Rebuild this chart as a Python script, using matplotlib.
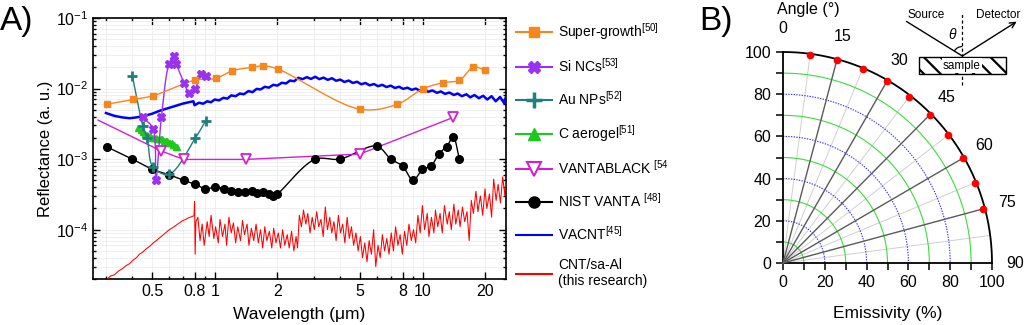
import numpy as np
import matplotlib
matplotlib.use('Agg')
import matplotlib.pyplot as plt
from matplotlib.lines import Line2D
from matplotlib.patches import Rectangle, Arc
from matplotlib.ticker import FixedLocator, FixedFormatter, LogLocator, NullFormatter, MultipleLocator

plt.rcParams['font.family'] = ['Liberation Sans', 'DejaVu Sans']
plt.rcParams['mathtext.fontset'] = 'custom'
plt.rcParams['mathtext.rm'] = 'Liberation Sans'
plt.rcParams['mathtext.it'] = 'Liberation Sans:italic'
plt.rcParams['mathtext.bf'] = 'Liberation Sans:bold'
plt.rcParams['hatch.linewidth'] = 1.6

# ---------------- data (panel A) ----------------
sg_x = [0.303, 0.405, 0.505, 0.804, 1.01, 1.216, 1.51, 1.71, 2.01, 4.98, 7.55, 10.0, 12.5, 15.0, 17.5, 20.0]
sg_y = [0.0060, 0.0070, 0.0079, 0.0132, 0.0139, 0.0179, 0.0200, 0.0210, 0.0189, 0.0051, 0.0060, 0.0099, 0.0121, 0.0131, 0.0202, 0.0181]

si_x = [0.452, 0.505, 0.521, 0.554, 0.603, 0.637, 0.654, 0.712, 0.752, 0.804, 0.857, 0.912]
si_y = [0.0039, 0.0027, 0.00050, 0.0039, 0.0223, 0.0292, 0.0223, 0.0121, 0.0087, 0.00975, 0.0161, 0.0150]

au_x = [0.402, 0.452, 0.473, 0.505, 0.603, 0.808, 0.905]
au_y = [0.0150, 0.0029, 0.0020, 0.00077, 0.00061, 0.0020, 0.0035]

ca_x = [0.43, 0.44, 0.45, 0.46, 0.47, 0.48, 0.49, 0.50, 0.51, 0.52, 0.53, 0.54,
        0.55, 0.56, 0.57, 0.58, 0.59, 0.60, 0.61, 0.62, 0.63, 0.64, 0.65, 0.66]
ca_y = [0.0028, 0.0026, 0.0024, 0.0023, 0.0022, 0.0021, 0.0021, 0.0020, 0.0020, 0.0020, 0.0019, 0.0019,
        0.0019, 0.0019, 0.0018, 0.0018, 0.0018, 0.0017, 0.0017, 0.0017, 0.0016, 0.0016, 0.0015, 0.0015]

vb_x = [0.275, 0.554, 0.71, 1.41, 4.98, 14.0]
vb_y = [0.00357, 0.0013, 0.00099, 0.00099, 0.00118, 0.0039]

nist_x = [0.302, 0.402, 0.502, 0.603, 0.71, 0.808, 0.902, 1.0, 1.105, 1.20, 1.30, 1.405, 1.51, 1.60,
          1.71, 1.82, 1.91, 2.0, 3.02, 3.99, 5.99, 7.02, 7.99, 8.98, 9.96, 10.96, 11.97, 13.0, 14.0, 15.0]
nist_y = [0.0015, 0.0010, 0.000714, 0.00060, 0.00050, 0.000438, 0.00038, 0.000401, 0.000383, 0.000355,
          0.00034, 0.000343, 0.00035, 0.00033, 0.00034, 0.000316, 0.000299, 0.00032, 0.00099, 0.0010,
          0.00153, 0.0010, 0.00080, 0.00050, 0.000714, 0.00080, 0.0012, 0.0015, 0.00203, 0.00099]

vacnt_x = [0.30, 0.33, 0.36, 0.39, 0.42, 0.46, 0.50, 0.55, 0.60, 0.65, 0.70, 0.75, 0.79,
           0.80, 0.84, 0.88, 0.92, 0.96, 1.00, 1.05, 1.10, 1.15, 1.20, 1.26, 1.32, 1.38, 1.45, 1.52,
           1.59, 1.66, 1.74, 1.82, 1.91, 2.00, 2.10, 2.20, 2.30, 2.41, 2.52, 2.64, 2.77, 2.90, 3.04,
           3.18, 3.33, 3.49, 3.66, 3.83, 4.01, 4.20, 4.40, 4.61, 4.83, 5.06, 5.30, 5.55, 5.82, 6.09,
           6.38, 6.69, 7.00, 7.34, 7.69, 8.05, 8.43, 8.84, 9.26, 9.70, 10.2, 10.6, 11.1, 11.7, 12.2,
           12.8, 13.4, 14.1, 14.7, 15.4, 16.2, 16.9, 17.7, 18.6, 19.5, 20.4, 21.4, 22.4, 23.5, 24.6, 25.0]
vacnt_y = [0.0045, 0.0041, 0.0039, 0.0038, 0.0039, 0.0041, 0.0044, 0.0049, 0.0053, 0.0057, 0.0061, 0.0064, 0.0066,
           0.0058, 0.0063, 0.0061, 0.0066, 0.0064, 0.0070, 0.0068, 0.0074, 0.0072, 0.0080, 0.0078, 0.0085, 0.0083, 0.0092, 0.0089,
           0.0099, 0.0097, 0.0106, 0.0103, 0.0113, 0.0110, 0.0121, 0.0118, 0.0130, 0.0127, 0.0142, 0.0136, 0.0145, 0.0137, 0.0147,
           0.0136, 0.0143, 0.0133, 0.0140, 0.0129, 0.0134, 0.0124, 0.0130, 0.0120, 0.0125, 0.0115, 0.0120, 0.0111, 0.0116, 0.0108,
           0.0113, 0.0105, 0.0110, 0.0102, 0.0106, 0.0099, 0.0103, 0.0096, 0.0100, 0.0093, 0.0097, 0.0090, 0.0094, 0.0087, 0.0091,
           0.0084, 0.0088, 0.0081, 0.0085, 0.0078, 0.0083, 0.0075, 0.0081, 0.0073, 0.0079, 0.0070, 0.0078, 0.0066, 0.0076, 0.0062, 0.0074]

cnt_x = [0.300, 0.315, 0.330, 0.345, 0.360, 0.375, 0.390, 0.405, 0.420, 0.435, 0.450, 0.470, 0.490,
         0.510, 0.530, 0.550, 0.575, 0.600, 0.625, 0.650, 0.675, 0.700, 0.725, 0.750, 0.775, 0.795,
         0.800, 0.805, 0.812,
         0.83, 0.85, 0.87, 0.89, 0.92, 0.94, 0.96, 0.99, 1.01, 1.04, 1.06, 1.09, 1.12, 1.14, 1.17,
         1.20, 1.23, 1.26, 1.29, 1.33, 1.36, 1.39, 1.43, 1.46, 1.50, 1.54, 1.58, 1.62, 1.66, 1.70,
         1.74, 1.78, 1.83, 1.88, 1.92, 1.97, 2.02, 2.07, 2.12, 2.17, 2.23, 2.28, 2.34, 2.40, 2.46, 2.50,
         2.55, 2.61, 2.67, 2.74, 2.80, 2.87, 2.94, 3.01, 3.09, 3.16, 3.24, 3.32, 3.40, 3.48, 3.57,
         3.65, 3.74, 3.83, 3.93, 4.02, 4.12, 4.22, 4.33, 4.43, 4.54, 4.65, 4.77,
         4.89, 5.01, 5.13, 5.26, 5.39, 5.52, 5.66, 5.80, 5.94, 6.09, 6.24, 6.39, 6.55, 6.71, 6.88,
         7.05, 7.22, 7.40, 7.59, 7.78, 7.97, 8.17, 8.37, 8.58, 8.80, 9.02, 9.24, 9.47, 9.71, 9.95,
         10.2, 10.5, 10.7, 11.0, 11.3, 11.5, 11.8, 12.1, 12.4, 12.7, 13.1, 13.4, 13.7, 14.1, 14.4,
         14.8, 15.1, 15.5, 15.9, 16.3, 16.7, 17.1, 17.5, 18.0, 18.4, 18.9, 19.4, 19.9, 20.3, 20.9,
         21.4, 21.9, 22.5, 23.0, 23.6, 24.2, 24.8, 25.0]
cnt_y = [1.9e-5, 2.2e-5, 2.3e-5, 2.6e-5, 2.8e-5, 3.1e-5, 3.3e-5, 3.7e-5, 4.0e-5, 4.5e-5, 4.8e-5, 5.4e-5, 5.9e-5,
         6.6e-5, 7.2e-5, 7.9e-5, 8.8e-5, 9.8e-5, 1.06e-4, 1.15e-4, 1.24e-4, 1.34e-4, 1.40e-4, 1.48e-4, 1.53e-4, 1.58e-4,
         2.5e-4, 4.5e-5, 1.3e-4,
         1.5e-4, 7e-5, 1.2e-4, 6e-5, 1.3e-4, 8e-5, 1.6e-4, 7.5e-5, 1.1e-4, 6.5e-5, 1.4e-4, 8e-5, 1.2e-4, 6e-5, 1.5e-4,
         9e-5, 1.25e-4, 6.5e-5, 1.1e-4, 7e-5, 1.35e-4, 8.5e-5, 1.2e-4, 6e-5, 1.05e-4, 7e-5, 1.2e-4, 6.5e-5, 1.0e-4, 5.5e-5,
         1.1e-4, 7e-5, 9.5e-5, 5.5e-5, 1.05e-4, 6.5e-5, 9e-5, 5.5e-5, 1.0e-4, 6e-5, 8.5e-5, 5.5e-5, 9.5e-5, 5e-5, 8e-5, 5.5e-5,
         1.6e-4, 1.1e-4, 1.9e-4, 1.2e-4, 1.7e-4, 9e-5, 1.5e-4, 1.0e-4, 1.8e-4, 1.1e-4, 1.4e-4, 8e-5, 2.1e-4, 1.0e-4, 1.5e-4,
         9e-5, 1.3e-4, 7e-5, 1.6e-4, 9e-5, 1.2e-4, 6.5e-5, 1.5e-4, 7.5e-5, 1.1e-4, 6e-5, 9e-5,
         5e-5, 8e-5, 4e-5, 6.5e-5, 3.5e-5, 7e-5, 4.5e-5, 1.0e-4, 3e-5, 6e-5, 4e-5, 8.5e-5, 5e-5, 7.5e-5, 4.5e-5,
         9e-5, 5e-5, 1.1e-4, 6e-5, 8.5e-5, 4.5e-5, 9.5e-5, 6e-5, 1.2e-4, 7e-5, 1.0e-4, 6.5e-5, 1.6e-4, 9e-5, 2.2e-4,
         1.0e-4, 1.7e-4, 8e-5, 1.5e-4, 9e-5, 1.9e-4, 1.1e-4, 1.7e-4, 9e-5, 2.2e-4, 1.2e-4, 1.8e-4, 1.0e-4, 2.3e-4, 1.2e-4,
         1.9e-4, 1.1e-4, 2.1e-4, 1.3e-4, 1.8e-4, 7e-5, 2.6e-4, 1.7e-4, 3.5e-4, 1.8e-4, 3.0e-4, 1.6e-4, 3.8e-4, 2.0e-4, 3.2e-4,
         1.5e-4, 5.2e-4, 2.6e-4, 4.4e-4, 2.4e-4, 5.6e-4, 3.0e-4, 4.8e-4]

x_ticks = [0.5, 0.8, 1, 2, 5, 8, 10, 20]
x_ticklabels = ['0.5', '0.8', '1', '2', '5', '8', '10', '20']

labels = [r'Super-growth$^{\mathregular{[50]}}$', r'Si NCs$^{\mathregular{[53]}}$',
          r'Au NPs$^{\mathregular{[52]}}$', r'C aerogel$^{\mathregular{[51]}}$',
          r'VANTABLACK $^{\mathregular{[54}}$', r'NIST VANTA $^{\mathregular{[48]}}$',
          r'VACNT$^{\mathregular{[45]}}$', 'CNT/sa-Al\n(this research)']

# ---------------- data (panel B) ----------------
emis_angle = [7.5, 15, 22.5, 30, 37.5, 45, 52.5, 60, 67.5, 75]
emis_value = [99.6, 99.5, 99.4, 99.5, 99.4, 99.3, 99.4, 99.2, 99.3, 99.2]
angle_labels = [0, 15, 30, 45, 60, 75, 90]

C_OR = '#f7861c'
C_PU = '#9b30f0'
C_TE = '#1f7f7f'
C_GR = '#1ec81e'
C_MA = '#d21fd2'
C_BL = '#0000ff'
C_RE = '#ff0000'

SX, SY = 208.0, 70.5


def smooth(xs, ys, n=24):
    P = np.column_stack([np.log10(xs) * SX, np.log10(ys) * SY])
    P = np.vstack([2 * P[0] - P[1], P, 2 * P[-1] - P[-2]])
    out = []
    for i in range(1, len(P) - 2):
        p0, p1, p2, p3 = P[i - 1], P[i], P[i + 1], P[i + 2]
        t0 = 0.0
        t1 = t0 + np.linalg.norm(p1 - p0) ** 0.5
        t2 = t1 + np.linalg.norm(p2 - p1) ** 0.5
        t3 = t2 + np.linalg.norm(p3 - p2) ** 0.5
        t = np.linspace(t1, t2, n)[:, None]
        A1 = (t1 - t) / (t1 - t0) * p0 + (t - t0) / (t1 - t0) * p1
        A2 = (t2 - t) / (t2 - t1) * p1 + (t - t1) / (t2 - t1) * p2
        A3 = (t3 - t) / (t3 - t2) * p2 + (t - t2) / (t3 - t2) * p3
        B1 = (t2 - t) / (t2 - t0) * A1 + (t - t0) / (t2 - t0) * A2
        B2 = (t3 - t) / (t3 - t1) * A2 + (t - t1) / (t3 - t1) * A3
        Cc = (t2 - t) / (t2 - t1) * B1 + (t - t1) / (t2 - t1) * B2
        out.append(Cc)
    out = np.vstack(out)
    return 10 ** (out[:, 0] / SX), 10 ** (out[:, 1] / SY)


fig = plt.figure(figsize=(10.24, 3.25), dpi=100)

# ================= Panel A =================
axA = fig.add_axes([93 / 1024, 1 - 279 / 325, (506 - 93) / 1024, (279 - 18) / 325])
axA.set_xscale('log')
axA.set_yscale('log')

axA.plot(cnt_x, cnt_y, color=C_RE, lw=0.75, zorder=3)
axA.plot(vacnt_x, vacnt_y, color=C_BL, lw=1.8, zorder=3)

xs, ys = smooth(nist_x, nist_y)
axA.plot(xs, ys, color='black', lw=1.0, zorder=4)
axA.plot(nist_x, nist_y, ls='none', marker='o', ms=5.5, color='black', zorder=5)

axA.plot(vb_x, vb_y, color=C_MA, lw=1.0, zorder=4)
axA.plot(vb_x[1:], vb_y[1:], ls='none', marker='v', ms=6.5, mfc='white', mec=C_MA, mew=1.3, zorder=5)

axA.plot(ca_x, ca_y, color=C_GR, lw=1.0, marker='^', ms=5, zorder=4)

xs, ys = smooth(au_x, au_y)
axA.plot(xs, ys, color=C_TE, lw=1.0, zorder=4)
axA.plot(au_x, au_y, ls='none', marker='+', ms=7, mew=2.0, color=C_TE, zorder=5)

xs, ys = smooth(si_x, si_y)
axA.plot(xs, ys, color=C_PU, lw=1.0, zorder=4)
axA.plot(si_x, si_y, ls='none', marker='X', ms=6, color=C_PU, zorder=5)

xs, ys = smooth(sg_x, sg_y)
axA.plot(xs, ys, color=C_OR, lw=1.0, zorder=4)
axA.plot(sg_x, sg_y, ls='none', marker='s', ms=4.5, color=C_OR, zorder=5)

axA.set_xlim(0.26, 25.1)
axA.set_ylim(2e-5, 1e-1)
axA.xaxis.set_major_locator(FixedLocator(x_ticks))
axA.xaxis.set_major_formatter(FixedFormatter(x_ticklabels))
axA.xaxis.set_minor_locator(LogLocator(base=10, subs=np.arange(1, 10), numticks=30))
axA.xaxis.set_minor_formatter(NullFormatter())
axA.yaxis.set_major_locator(LogLocator(base=10, numticks=10))
axA.yaxis.set_minor_locator(LogLocator(base=10, subs=np.arange(2, 10), numticks=30))
axA.yaxis.set_minor_formatter(NullFormatter())
axA.tick_params(which='both', direction='in', top=True, right=True, labelsize=11.5, width=1.0)
axA.tick_params(which='major', length=5)
axA.tick_params(which='minor', length=2.5)
axA.grid(True, which='both', color='#ececec', lw=0.6)
axA.set_axisbelow(True)
for s in axA.spines.values():
    s.set_linewidth(1.2)
axA.set_xlabel('Wavelength (μm)', fontsize=12.5, labelpad=6)
axA.set_ylabel('Reflectance (a. u.)', fontsize=12, labelpad=2)

handles = [
    Line2D([], [], color=C_OR, lw=1.5, marker='s', ms=7),
    Line2D([], [], color=C_PU, lw=1.5, marker='X', ms=9),
    Line2D([], [], color=C_TE, lw=1.5, marker='+', ms=11, mew=2.5),
    Line2D([], [], color=C_GR, lw=1.5, marker='^', ms=8),
    Line2D([], [], color=C_MA, lw=1.5, marker='v', ms=10, mfc='white', mew=1.5),
    Line2D([], [], color='black', lw=1.5, marker='o', ms=8),
    Line2D([], [], color=C_BL, lw=1.5),
    Line2D([], [], color=C_RE, lw=1.5),
]
fig.legend(handles, labels, loc='upper left', bbox_to_anchor=(0.498, 0.953), frameon=False,
           fontsize=10, handlelength=2.6, labelspacing=1.09, handletextpad=0.45,
           borderaxespad=0, borderpad=0.4)

fig.text(0.0, 0.935, 'A)', fontsize=24, va='center', ha='left')
fig.text(0.683, 0.935, 'B)', fontsize=24, va='center', ha='left')

# ================= Panel B =================
axB = fig.add_axes([783 / 1024, 1 - 263 / 325, 209 / 1024, 211 / 325])
axB.set_xlim(0, 100)
axB.set_ylim(0, 100)
th = np.linspace(0, np.pi / 2, 300)
for r in [10, 30, 50, 70, 90]:
    axB.plot(r * np.sin(th), r * np.cos(th), color='#3ddc3d', lw=0.8, clip_on=False, zorder=2)
for r in [20, 40, 60, 80]:
    axB.plot(r * np.sin(th), r * np.cos(th), color='#2a2aff', lw=0.8, ls=(0, (1.2, 1.2)), clip_on=False, zorder=2)
for a in [7.5, 22.5, 37.5, 52.5, 67.5, 82.5]:
    ar = np.radians(a)
    axB.plot([0, 100 * np.sin(ar)], [0, 100 * np.cos(ar)], color='#cfcfcf', lw=0.7, clip_on=False, zorder=1)
for a in [15, 30, 45, 60, 75]:
    ar = np.radians(a)
    axB.plot([0, 100 * np.sin(ar)], [0, 100 * np.cos(ar)], color='#5a5a5a', lw=1.0, clip_on=False, zorder=3)
axB.plot(100 * np.sin(th), 100 * np.cos(th), color='black', lw=1.3, clip_on=False, zorder=4)

ea = np.radians(emis_angle)
ev = np.array(emis_value)
axB.plot(ev * np.sin(ea), ev * np.cos(ea), ls='none', marker='o', ms=4.5, color='red', clip_on=False, zorder=5)

for a in angle_labels:
    ar = np.radians(a)
    axB.text(111 * np.sin(ar), 111 * np.cos(ar), str(a), fontsize=11.5, ha='center', va='center')
axB.text(12, 120, 'Angle (°)', fontsize=11.5, ha='center', va='center')

for side in ['top', 'right']:
    axB.spines[side].set_visible(False)
axB.spines['left'].set_linewidth(1.3)
axB.spines['bottom'].set_linewidth(1.3)
axB.xaxis.set_major_locator(MultipleLocator(20))
axB.xaxis.set_minor_locator(MultipleLocator(10))
axB.yaxis.set_major_locator(MultipleLocator(20))
axB.yaxis.set_minor_locator(MultipleLocator(10))
axB.tick_params(which='both', direction='out', length=5, width=1.1, labelsize=11.5)
axB.set_xlabel('Emissivity (%)', fontsize=12.5, labelpad=12)

# inset schematic
cx, cy = 85.8, 98.1
axB.plot([59.2, cx], [114.4, cy], color='black', lw=1.0, clip_on=False)
axB.annotate('', xy=(111.8, 114.4), xytext=(cx, cy), annotation_clip=False,
             arrowprops=dict(arrowstyle='->', lw=1.0, color='black', shrinkA=0, shrinkB=0))
axB.plot([cx, cx], [84.4, 118.5], color='black', lw=0.9, ls=(0, (2.5, 2)), clip_on=False, zorder=1)
axB.add_patch(Rectangle((65.2, 89.6), 41.5, 7.9, facecolor='white', edgecolor='black',
                        hatch='\\\\', lw=1.0, clip_on=False, zorder=6))
axB.text(85.6, 93.6, 'sample', fontsize=8.5, ha='center', va='center', zorder=7,
         bbox=dict(boxstyle='square,pad=0.1', fc='white', ec='none'))
axB.add_patch(Arc((cx, cy), 9, 9, theta1=90, theta2=148, lw=0.9, clip_on=False))
axB.text(81.2, 108.3, r'$\theta$', fontsize=10, ha='center', va='center')
axB.text(68.5, 117.3, 'Source', fontsize=8.5, ha='center', va='center')
axB.text(103, 117.3, 'Detector', fontsize=8.5, ha='center', va='center')

fig.savefig('out.png', dpi=100)
